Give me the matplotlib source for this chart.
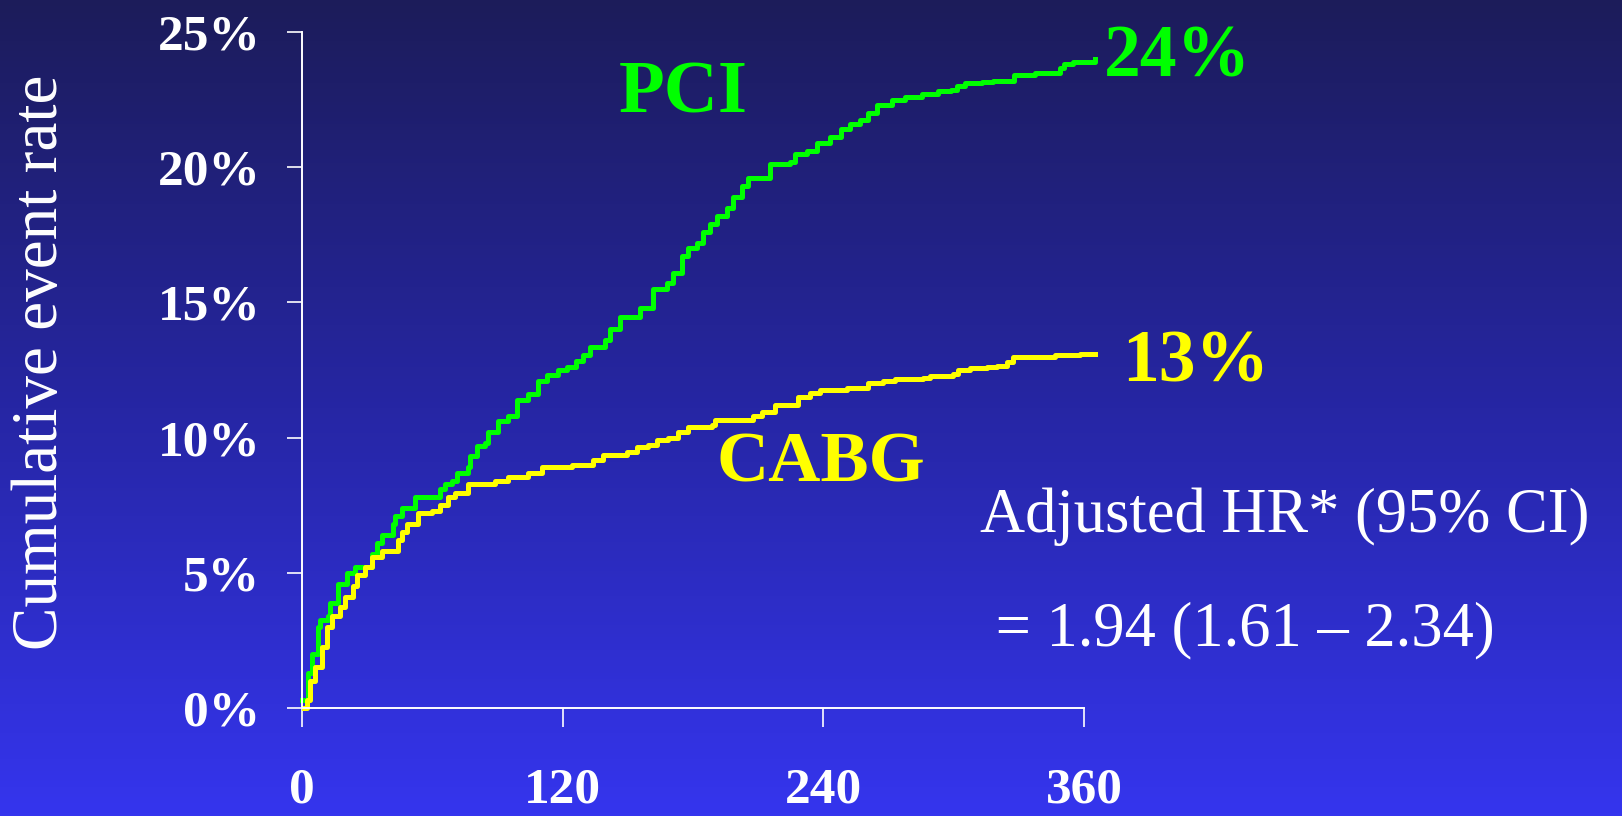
import numpy as np
import matplotlib.pyplot as plt
from matplotlib.colors import LinearSegmentedColormap

# Kaplan-Meier style cumulative event rates (days, %)
pci_days = [0, 2.8, 4.6, 7.4, 8.3, 12, 12.9, 16.6, 20.7, 24.4, 32, 34.5, 36.8, 41.9, 42.8,
            46, 52, 63.5, 65.8, 69, 71.4, 76.4, 77.3, 80.6, 84.3, 85.6, 90.2, 94.8, 99,
            104, 108.7, 113, 118, 122, 126, 129.4, 132.6, 139.5, 141.8, 146.4, 155.6,
            161.6, 168, 170.8, 175, 177.7, 181.9, 184.6, 187.8, 191, 195.7, 198.4, 202.6,
            205.3, 215.5, 224.7, 227, 232.5, 237, 243, 248, 252.3, 257, 260.6, 264.7,
            271.6, 277.6, 285.5, 292.8, 299, 301.5, 305.2, 313, 318, 328, 337.5, 349,
            351, 355, 365]
pci_rate = [0.3, 1.3, 2.0, 3.0, 3.25, 3.4, 3.9, 4.6, 5.0, 5.2, 5.7, 6.1, 6.4, 6.8, 7.1,
            7.4, 7.8, 8.1, 8.3, 8.4, 8.7, 8.9, 9.3, 9.7, 9.8, 10.2, 10.6, 10.8, 11.4,
            11.6, 12.1, 12.3, 12.5, 12.6, 12.85, 13.05, 13.35, 13.6, 14.0, 14.46, 14.8,
            15.5, 15.7, 16.1, 16.7, 17.0, 17.2, 17.6, 17.9, 18.2, 18.5, 18.9, 19.3,
            19.6, 20.1, 20.2, 20.5, 20.6, 20.9, 21.1, 21.4, 21.6, 21.75, 22.0, 22.3,
            22.5, 22.6, 22.7, 22.8, 22.85, 23.0, 23.1, 23.15, 23.2, 23.4, 23.5, 23.65,
            23.8, 23.9, 24.0]

cabg_days = [1, 2.2, 3.7, 6, 9.2, 11.5, 13.8, 17.5, 19.8, 23.5, 25.3, 29, 32.2, 36.8,
             44.2, 46, 48.3, 53.4, 60, 63.5, 67.2, 70.4, 76.4, 88.9, 94.8, 104, 110.5,
             124.3, 134, 138.6, 149.6, 154.2, 159.3, 163.4, 168.5, 173, 177.7, 188.8,
             190.1, 207.6, 211.8, 217.8, 228.4, 233.9, 238.5, 250.9, 260.6, 267.5, 273,
             286, 289, 299.7, 302, 307.5, 315.4, 320, 324.6, 327.3, 346.7, 358, 365]
cabg_rate = [0.0, 0.3, 1.0, 1.5, 2.27, 3.0, 3.4, 3.75, 4.1, 4.5, 4.9, 5.2, 5.6, 5.8,
             6.2, 6.5, 6.8, 7.2, 7.3, 7.5, 7.8, 7.95, 8.3, 8.4, 8.55, 8.7, 8.9,
             9.0, 9.17, 9.36, 9.47, 9.65, 9.73, 9.9, 10.0, 10.2, 10.4, 10.47,
             10.65, 10.8, 10.95, 11.2, 11.5, 11.65, 11.76, 11.83, 12.0, 12.1, 12.15,
             12.2, 12.28, 12.35, 12.5, 12.57, 12.6, 12.65, 12.8, 12.98, 13.05, 13.1, 13.1]

x_ticks = [0, 120, 240, 360]
y_ticks = [0, 5, 10, 15, 20, 25]

GREEN = '#00ff00'
YELLOW = '#ffff00'
serif = ['Liberation Serif', 'DejaVu Serif']

fig = plt.figure(figsize=(16.22, 8.16), dpi=100)

# gradient slide background
bg = fig.add_axes([0, 0, 1, 1], zorder=-1)
cmap = LinearSegmentedColormap.from_list('slide', ['#1c1c5a', '#2626a4', '#3535ee'])
bg.imshow(np.linspace(0, 1, 256).reshape(-1, 1), cmap=cmap, aspect='auto',
          extent=[0, 1, 0, 1])
bg.axis('off')

ax = fig.add_axes([0.1862, 0.1324, 0.4821, 0.8284])
ax.patch.set_alpha(0)

ax.plot(pci_days, pci_rate, drawstyle='steps-post', color=GREEN, lw=3.6, clip_on=False)
ax.plot(cabg_days, cabg_rate, drawstyle='steps-post', color=YELLOW, lw=3.6, clip_on=False)

ax.set_xlim(0, 360)
ax.set_ylim(0, 25)
for side in ['top', 'right']:
    ax.spines[side].set_visible(False)
for side in ['left', 'bottom']:
    ax.spines[side].set_color('white')
    ax.spines[side].set_linewidth(1.4)

ax.set_xticks(x_ticks)
ax.set_xticklabels([str(t) for t in x_ticks])
ax.set_yticks(y_ticks)
ax.set_yticklabels([f'{t}%' for t in y_ticks])
ax.tick_params(axis='x', colors='white', length=14, width=1.2, pad=29)
ax.tick_params(axis='y', colors='white', length=11, width=1.2, pad=19)
for lab in ax.get_xticklabels() + ax.get_yticklabels():
    lab.set_family(serif)
    lab.set_fontweight('bold')
    lab.set_fontsize(37)
    lab.set_color('white')

fig.text(0.0253, 0.556, 'Cumulative event rate', rotation=90, ha='center', va='center',
         color='white', fontsize=47, family=serif)

ax.text(146, 22.04, 'PCI', color=GREEN, fontsize=54, fontweight='bold', family=serif,
        ha='left', va='baseline')
ax.text(191, 8.39, 'CABG', color=YELLOW, fontsize=52, fontweight='bold', family=serif,
        ha='left', va='baseline')
ax.text(369, 23.34, f'{round(pci_rate[-1])}%', color=GREEN, fontsize=53, fontweight='bold',
        family=serif, ha='left', va='baseline', clip_on=False)
ax.text(377.5, 12.06, f'{round(cabg_rate[-1])}%', color=YELLOW, fontsize=53,
        fontweight='bold', family=serif, ha='left', va='baseline', clip_on=False)

fig.text(980 / 1622, 1 - 532 / 816, 'Adjusted HR* (95% CI)', color='white', fontsize=45,
         family=serif, ha='left', va='baseline')
fig.text(980 / 1622, 1 - 645 / 816, ' = 1.94 (1.61 \u2013 2.34)', color='white', fontsize=45,
         family=serif, ha='left', va='baseline')

fig.savefig('out.png', dpi=100)
